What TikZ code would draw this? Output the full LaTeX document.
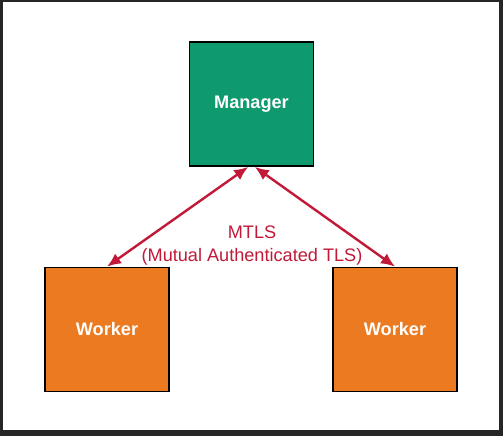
\documentclass[tikz,border=0pt]{standalone}
\usepackage{fontspec}
\setmainfont{Liberation Sans}
\usetikzlibrary{arrows.meta}
\definecolor{Manager}{rgb}{0.06, 0.60, 0.43}
\definecolor{Worker}{rgb}{0.92, 0.48, 0.13}
\definecolor{Link}{rgb}{0.76, 0.10, 0.22}
\begin{document}
\begin{tikzpicture}[x=0.75pt, y=-0.75pt,
        box/.style={draw=black, line width=1.3pt, minimum width=93pt, minimum height=93pt,
            text=white, font=\fontsize{13.6}{16}\selectfont\bfseries},
        link/.style={Link, line width=1.8pt, {Latex[length=10.5pt,width=9pt]}-{Latex[length=10.5pt,width=9pt]}}]
        % Frame of the screenshot
        \fill[black!85] (0,0) rectangle (503,436);
        \fill[white] (3,2) rectangle (499,430);
        \useasboundingbox (0,0) rectangle (503,436);

        % Manager and workers
        \node[box, fill=Manager] (manager) at (251.5,104) {Manager};
        \node[box, fill=Worker] (leftworker) at (107,329.5) {Worker};
        \node[box, fill=Worker] (rightworker) at (395,329.5) {Worker};

        % Connections
        \draw[link] (manager.-93) -- (leftworker.north);
        \draw[link] (manager.-87) -- (rightworker.north);

        % Label of the connections
        \node[text=Link, align=center, font=\fontsize{13.6}{17.25}\selectfont] (mtls) at (252,246)
            {MTLS\\(Mutual Authenticated TLS)};
    \end{tikzpicture}
\end{document}
